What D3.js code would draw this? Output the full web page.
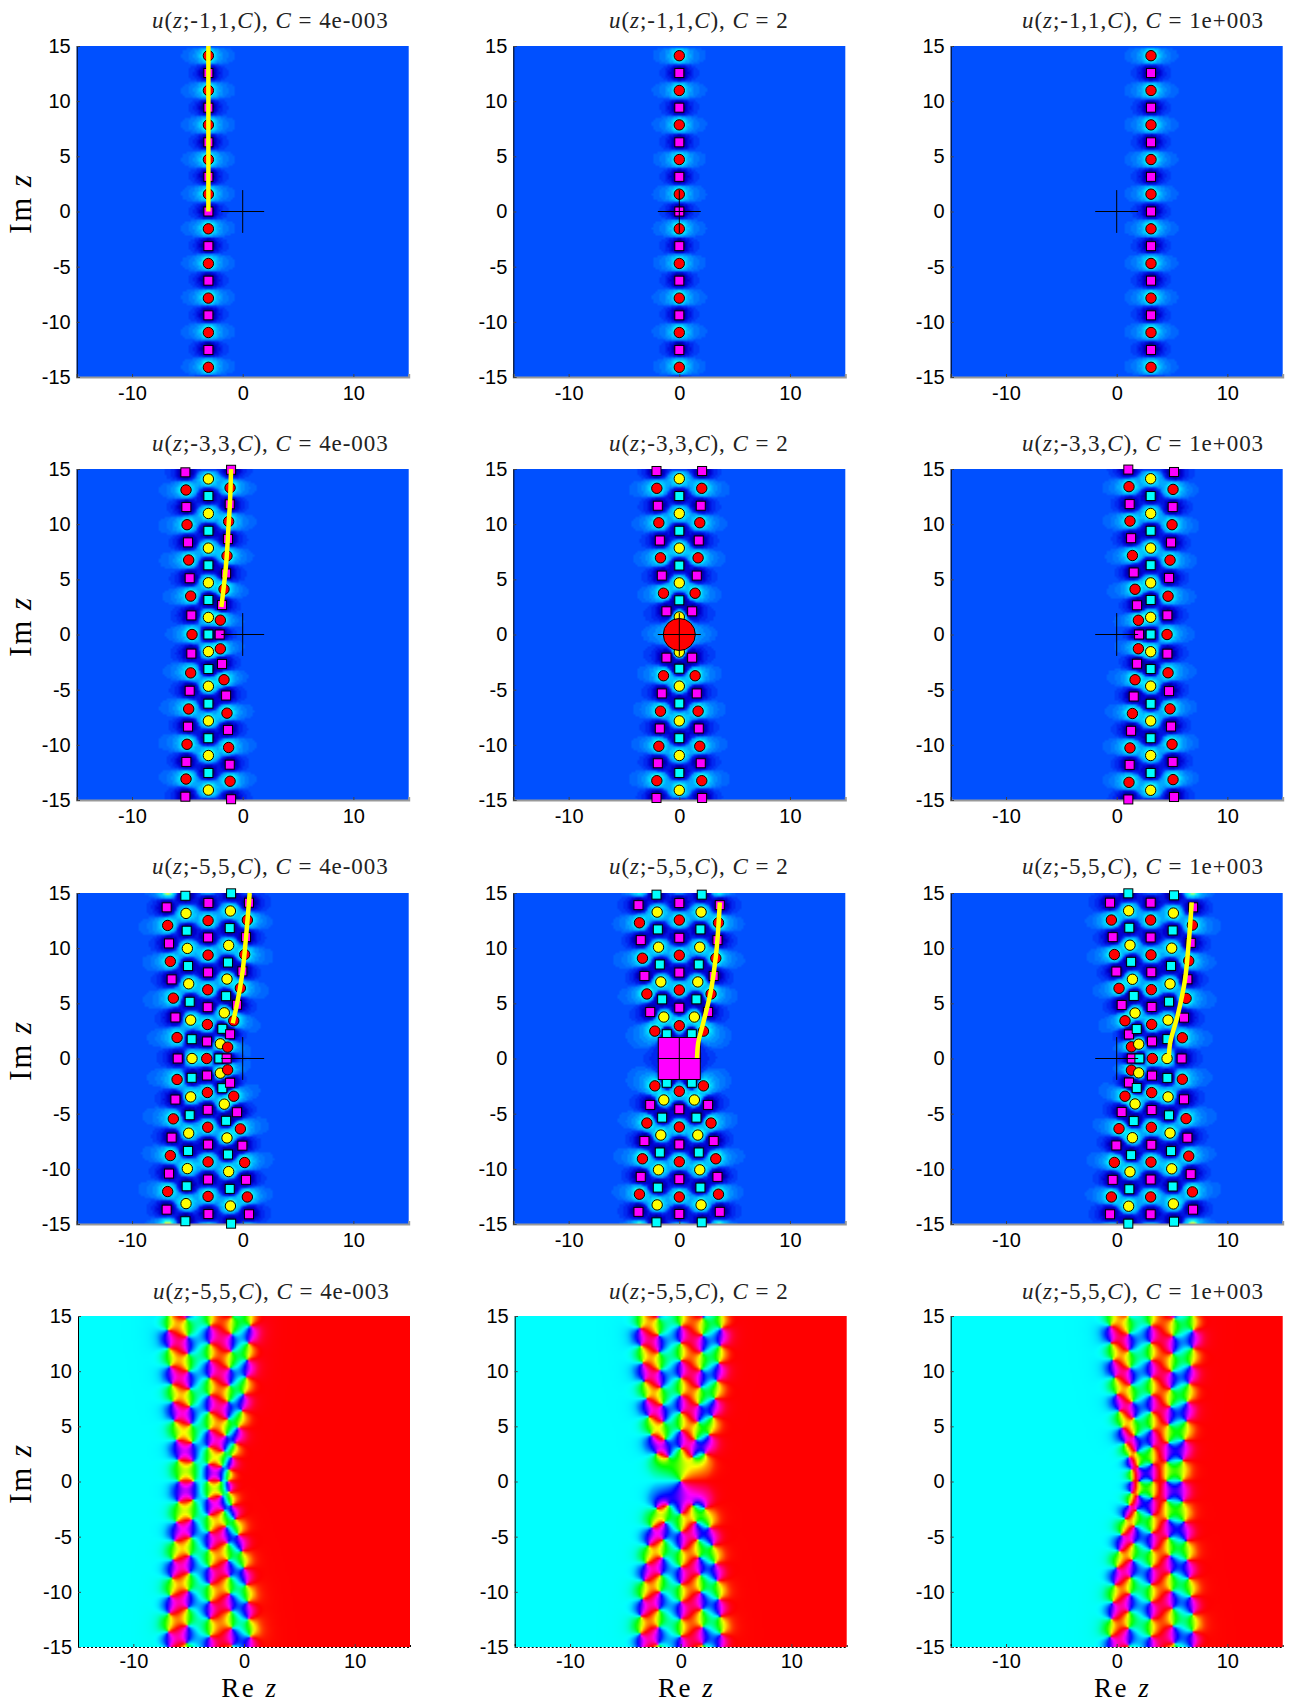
<!DOCTYPE html>
<html>
<head>
<meta charset="utf-8">
<script src="https://cdn.jsdelivr.net/npm/d3@7"></script>
<style>
  body { margin: 0; background: #fff; }
  svg { display: block; }
  .tick text { font-family: "Liberation Sans", Arial, sans-serif; font-size: 20px; fill: #000; }
  .ttl { font-family: "Liberation Serif", serif; font-size: 23px; letter-spacing: 0.95px; fill: #222; }
  .lbl { font-family: "Liberation Serif", serif; font-size: 31px; letter-spacing: 1.5px; fill: #000; }
  .lblx { font-family: "Liberation Serif", serif; font-size: 27px; letter-spacing: 2.5px; fill: #000; }
</style>
</head>
<body>
<svg id="fig" width="1293" height="1703"></svg>
<script>
// Every column is listed from y = 0 upward, the lower half plane is its mirror image.
// Kinds alternate along a column: r red circle, m magenta square, y yellow circle, c cyan square.

// first row, one column at x = -3.1, 0, 3.1
var r1xs = [-3.1, 0, 3.1];
var r1ys = [0, 1.57, 3.14, 4.71, 6.27, 7.85, 9.41, 10.97, 12.55, 14.12];

// second row
var r2c1L = [[-4.58,0],[-4.64,1.73],[-4.7,3.48],[-4.79,5.1],[-4.88,6.75],[-4.94,8.35],[-5.03,9.95],[-5.09,11.55],[-5.12,13.1],[-5.18,14.7]];
var r2c1C = [[-3.1,0],[-3.1,1.55],[-3.1,3.13],[-3.1,4.69],[-3.1,6.27],[-3.1,7.83],[-3.1,9.4],[-3.1,10.97],[-3.1,12.55],[-3.1,14.1]];
var r2c1R = [[-2.08,0],[-2.02,1.3],[-1.87,2.67],[-1.69,4.1],[-1.5,5.53],[-1.42,7.13],[-1.33,8.65],[-1.27,10.24],[-1.17,11.8],[-1.14,13.3],[-1.05,14.93]];

var r2c2L = [[-1.16,2.1],[-1.43,3.74],[-1.58,5.34],[-1.7,6.95],[-1.76,8.52],[-1.85,10.13],[-1.94,11.67],[-2.03,13.25],[-2.06,14.82]];
var r2c2C = [[0,1.59],[0,3.1],[0,4.68],[0,6.25],[0,7.83],[0,9.4],[0,10.97],[0,12.55],[0,14.12]];
var r2c2R = [[1.16,2.1],[1.43,3.74],[1.58,5.34],[1.7,6.95],[1.76,8.52],[1.85,10.13],[1.94,11.67],[2.03,13.25],[2.06,14.82]];

var r2c3L = [[2.02,0],[1.96,1.29],[1.84,2.65],[1.66,4.1],[1.54,5.62],[1.42,7.16],[1.3,8.73],[1.2,10.28],[1.17,11.82],[1.11,13.4],[1.05,14.95]];
var r2c3C = [[3.07,0],[3.07,1.56],[3.07,3.13],[3.07,4.68],[3.07,6.28],[3.07,7.83],[3.07,9.4],[3.07,10.97],[3.07,12.55],[3.07,14.12]];
var r2c3R = [[4.55,0],[4.58,1.74],[4.64,3.47],[4.73,5.13],[4.82,6.74],[4.91,8.34],[5,9.95],[5.06,11.55],[5.09,13.15],[5.18,14.73]];

// third row (the fourth row shows the same points)
var r3c1A = [[-5.87,0],[-5.93,1.9],[-6.08,3.72],[-6.27,5.47],[-6.42,7.17],[-6.54,8.8],[-6.66,10.43],[-6.78,12.06],[-6.87,13.7]];
var r3c1B = [[-4.58,0],[-4.61,1.75],[-4.7,3.48],[-4.79,5.14],[-4.88,6.77],[-4.94,8.38],[-5,9.98],[-5.06,11.58],[-5.12,13.15],[-5.18,14.75]];
var r3c1C = [[-3.25,0],[-3.22,1.54],[-3.19,3.08],[-3.16,4.65],[-3.16,6.23],[-3.13,7.8],[-3.13,9.37],[-3.13,10.97],[-3.13,12.5],[-3.1,14.1]];
var r3c1D = [[-2.11,0],[-2.02,1.33],[-1.84,2.69],[-1.66,4.14],[-1.5,5.65],[-1.42,7.2],[-1.33,8.7],[-1.27,10.25],[-1.17,11.82],[-1.11,13.37],[-1.05,14.97]];
var r3c1E = [[-1.45,0],[-1.36,1.03],[-1.14,2.2],[-0.81,3.42],[-0.51,4.87],[-0.21,6.38],[-0.03,7.9],[0.18,9.43],[0.3,11],[0.42,12.55],[0.57,14.12]];

var r3c2A = [[-2.21,2.48],[-2.63,4.21],[-2.93,5.85],[-3.15,7.48],[-3.33,9.09],[-3.48,10.73],[-3.6,12.3],[-3.69,13.9]];
var r3c2B = [[-1.13,2.2],[-1.4,3.76],[-1.55,5.36],[-1.67,6.94],[-1.76,8.52],[-1.88,10.09],[-1.94,11.7],[-2,13.27],[-2.06,14.85]];
var r3c2C = [[0,0],[0,2.97],[0,4.6],[0,6.21],[0,7.79],[0,9.36],[0,10.94],[0,12.55],[0,14.09]];
var r3c2D = [[1.13,2.2],[1.36,3.76],[1.55,5.36],[1.67,6.94],[1.76,8.52],[1.85,10.09],[1.91,11.7],[1.97,13.27],[2.03,14.85]];
var r3c2E = [[2.18,2.48],[2.6,4.21],[2.87,5.85],[3.11,7.48],[3.3,9.09],[3.45,10.73],[3.54,12.3],[3.66,13.9]];

var r3c3A = [[1.36,0],[1.33,1.06],[1.11,2.18],[0.75,3.42],[0.45,4.85],[0.21,6.36],[-0.03,7.88],[-0.21,9.42],[-0.36,11],[-0.48,12.55],[-0.6,14.12]];
var r3c3B = [[2.05,0],[1.99,1.3],[1.81,2.67],[1.66,4.12],[1.54,5.67],[1.42,7.18],[1.3,8.76],[1.2,10.27],[1.14,11.85],[1.08,13.39],[1.05,14.97]];
var r3c3C = [[3.22,0],[3.19,1.55],[3.16,3.09],[3.16,4.67],[3.13,6.24],[3.13,7.82],[3.1,9.39],[3.07,10.97],[3.07,12.55],[3.07,14.12]];
var r3c3D = [[4.55,0],[4.58,1.76],[4.64,3.48],[4.73,5.15],[4.82,6.76],[4.91,8.39],[4.97,10],[5.06,11.6],[5.12,13.18],[5.18,14.79]];
var r3c3E = [[5.87,0],[5.93,1.88],[6.08,3.7],[6.27,5.45],[6.39,7.18],[6.51,8.85],[6.69,10.48],[6.84,12.09],[6.9,13.7]];

// the thick yellow paths
var path11 = [[-3.1,0],[-3.1,15]];
var path21 = [[-1.93,2.5],[-1.7,4.4],[-1.45,7],[-1.3,9.5],[-1.15,12],[-1.05,15]];
var path31 = [[-0.9,3.2],[-0.51,4.96],[-0.03,7.74],[0.3,11],[0.63,15]];
var path32 = [[1.6,0],[1.7,1.36],[2.15,3.18],[2.81,5.9],[3.3,9.24],[3.66,14.15]];
var path33 = [[4.7,0],[4.82,1.36],[5.48,3.79],[6.17,7.12],[6.48,10.15],[6.78,14.15]];

var paramLabels = ["-1,1", "-3,3", "-5,5", "-5,5"];
var cLabels = ["4e-003", "2", "1e+003"];
var yTicks = [-15, -10, -5, 0, 5, 10, 15];
var xTicks = [-10, 0, 10];

// contour levels of the field (offset from the far value) and their colours
var fieldLevels = [-3.5, -2, -1, -0.5, -0.2, -0.06, 0.012, 0.06, 0.2, 0.5, 1, 2, 3.5, 6, 9];
var fieldColors = ["#000080", "#0000a8", "#0000d0", "#0014e0", "#0028f0", "#003cf8", "#0050ff",
                   "#0066ff", "#0078ff", "#0090ff", "#00a8ff", "#00c4ff", "#00e4ff", "#30ffe0", "#90ff90", "#d8ff40"];

// columns and their kinds per panel, as [points, first kind, second kind]
var r1Column = function(x){ return [[r1ys.map(function(y){ return [x, y]; }), "m", "r"]]; };
var panels = [
  {row:0, col:0, columns:r1Column(r1xs[0]), path:path11},
  {row:0, col:1, columns:r1Column(r1xs[1])},
  {row:0, col:2, columns:r1Column(r1xs[2])},
  {row:1, col:0, columns:[[r2c1L,"r","m"],[r2c1C,"c","y"],[r2c1R,"m","r"]], path:path21},
  {row:1, col:1, columns:[[r2c2L,"m","r"],[r2c2C,"y","c"],[r2c2R,"m","r"],[[[0,0]],"r","r"]], big:"r"},
  {row:1, col:2, columns:[[r2c3L,"m","r"],[r2c3C,"c","y"],[r2c3R,"r","m"]]},
  {row:2, col:0, columns:[[r3c1A,"m","r"],[r3c1B,"y","c"],[r3c1C,"r","m"],[r3c1D,"c","y"],[r3c1E,"m","r"]], path:path31},
  {row:2, col:1, columns:[[r3c2A,"r","m"],[r3c2B,"c","y"],[r3c2C,"m","r"],[r3c2D,"c","y"],[r3c2E,"r","m"]], path:path32, big:"m"},
  {row:2, col:2, columns:[[r3c3A,"m","r"],[r3c3B,"c","y"],[r3c3C,"r","m"],[r3c3D,"y","c"],[r3c3E,"m","r"]], path:path33}
];
// the phase row reuses the third row's points
panels.slice(6).forEach(function(p){
  panels.push({row:3, col:p.col, columns:p.columns, phase:true});
});

var lefts = [[76.7,513.3,950.7],[76.7,513.3,950.7],[76.7,513.3,950.7],[78,514.7,950.7]];
var tops = [46, 469, 893, 1316];
var titleY = [28, 451, 874, 1299];
var titleX = [152, 609, 1022];
var plotW = 332, plotH = 331, STEP = 2;

var fillOf = {r:"#f00", m:"#f0f", y:"#ff0", c:"#0ff"};
var sign = {r:1, m:-1, y:1, c:-1};      // sign in the intensity field
var winding = {r:-1, m:1, y:-1, c:1};   // winding in the phase plot

var intensity = d3.scaleThreshold().domain(fieldLevels).range(fieldColors.map(function(c){ return d3.rgb(c); }));

// Build point lists: drawn markers plus periodic copies past the frame so
// that the columns do not stop abruptly at the edge.
function collect(panel){
  var pts = [], copies = panel.phase ? 16 : 8;
  panel.columns.forEach(function(c){
    var list = c[0], kinds = [c[1], c[2]], up = [];
    list.forEach(function(p, i){
      up.push({x:p[0], y:p[1], k:kinds[i % 2], w:1, shown:true});
    });
    if(list.length > 2){
      var n = list.length;
      for(var i = 0; i < copies; i++){
        var src = list[n - 2 + i % 2];
        up.push({x:src[0], y:src[1] + Math.PI * (1 + Math.floor(i / 2)), k:kinds[(n - 2 + i) % 2], w:(i == copies - 1 ? 0.5 : 1), shown:false});
      }
    }
    up.forEach(function(p){
      pts.push(p);
      if(p.y > 0) pts.push({x:p.x, y:-p.y, k:p.k, w:p.w, shown:p.shown});
    });
  });
  return pts;
}

function paintImage(g, panel, pts, x, y){
  var nx = Math.ceil(plotW / STEP), ny = Math.ceil(plotH / STEP);
  var canvas = document.createElement("canvas");
  canvas.width = nx; canvas.height = ny;
  var ctx = canvas.getContext("2d");
  var img = ctx.createImageData(nx, ny);
  var n = pts.length;
  var px = pts.map(function(p){ return p.x; }), py = pts.map(function(p){ return p.y; });
  var wt = pts.map(function(p){ return (panel.phase ? winding[p.k] : sign[p.k]) * p.w; });
  for(var j = 0; j < ny; j++){
    var zy = y.invert((j + 0.5) * STEP), k, dx, dy;
    // soft outline of the band at this height, used by the phase plot
    var bandL = 1e9, bandR = -1e9;
    if(panel.phase){
      for(k = 0; k < n; k++){
        dy = zy - py[k];
        bandL = Math.min(bandL, px[k] + 0.15 * dy * dy);
        bandR = Math.max(bandR, px[k] - 0.15 * dy * dy);
      }
    }
    for(var i = 0; i < nx; i++){
      var zx = x.invert((i + 0.5) * STEP), c;
      if(panel.phase){
        var arg = 0;
        for(k = 0; k < n; k++){
          arg += wt[k] * Math.atan2(zy - py[k], zx - px[k]);
        }
        // away from the band the phase settles on its far value: 180 left, 0 right
        var far = zx < bandL ? 180 : 0;
        var off = ((arg * 180 / Math.PI - far) % 360 + 540) % 360 - 180;
        var outside = zx < bandL ? bandL - zx : zx - bandR;
        if(outside > 0.8) off *= Math.exp(-(outside - 0.8) * 1.2);
        c = d3.rgb(d3.hsl(far + off, 1, 0.5));
      }else{
        var v = 0;
        for(k = 0; k < n; k++){
          dx = zx - px[k]; dy = zy - py[k];
          v += wt[k] / (dx * dx + dy * dy + 1e-6);
        }
        // the big marker at the origin has a wider halo
        if(panel.big) v += sign[panel.big] * 0.8 * Math.exp(-(zx * zx / 3.5 + zy * zy / 1.2));
        // and the big square cancels the faint ring its neighbours leave
        if(panel.big == "m") v -= 0.06 * Math.exp(-(zx * zx / 40 + zy * zy / 16));
        c = intensity(v);
      }
      var o = (j * nx + i) * 4;
      img.data[o] = c.r; img.data[o + 1] = c.g; img.data[o + 2] = c.b; img.data[o + 3] = 255;
    }
  }
  ctx.putImageData(img, 0, 0);
  g.append("image")
    .attr("href", canvas.toDataURL())
    .attr("width", plotW).attr("height", plotH)
    .attr("preserveAspectRatio", "none");
}

function drawTitle(panel){
  var t = d3.select("#fig").append("text")
    .attr("class", "ttl")
    .attr("x", titleX[panel.col] + (panel.row == 3 && panel.col == 0 ? 1 : 0))
    .attr("y", titleY[panel.row]);
  var parts = [["u",1],["(",0],["z",1],[";" + paramLabels[panel.row] + ",",0],["C",1],["), ",0],["C",1],[" = " + cLabels[panel.col],0]];
  parts.forEach(function(p){
    t.append("tspan").attr("font-style", p[1] ? "italic" : "normal").text(p[0]);
  });
}

var lineGen = null;
panels.forEach(function(panel){
  var g = d3.select("#fig").append("g")
    .attr("transform", "translate(" + lefts[panel.row][panel.col] + "," + tops[panel.row] + ")");
  var x = d3.scaleLinear().domain([-15, 15]).range([0, plotW]);
  var y = d3.scaleLinear().domain([15, -15]).range([0, plotH]);
  var pts = collect(panel);

  paintImage(g, panel, pts, x, y);

  // axes
  var ax = d3.axisBottom(x).tickValues(xTicks).tickSize(-3).tickPadding(panel.phase ? 7 : 9).tickFormat(String);
  var ay = d3.axisLeft(y).tickValues(yTicks).tickSize(-3).tickPadding(6).tickFormat(String);
  var gx = g.append("g").attr("transform", "translate(0," + plotH + ")").call(ax);
  var gy = g.append("g").call(ay);
  gx.selectAll(".domain").attr("stroke", panel.phase ? "#000" : "#999").attr("stroke-width", panel.phase ? 1 : 2)
    .attr("stroke-dasharray", panel.phase ? "2,2" : null);
  gx.selectAll(".tick line").attr("stroke", "#444");
  gy.selectAll(".tick line").attr("stroke", "#444");

  if(!panel.phase){
    var shown = pts.filter(function(p){ return p.shown; });
    g.selectAll("circle.mk")
      .data(shown.filter(function(p){ return p.k == "r" || p.k == "y"; }))
      .enter().append("circle").attr("class", "mk")
      .attr("cx", function(p){ return x(p.x); })
      .attr("cy", function(p){ return y(p.y); })
      .attr("r", 5.2)
      .attr("fill", function(p){ return fillOf[p.k]; })
      .attr("stroke", "#000");
    g.selectAll("rect.mk")
      .data(shown.filter(function(p){ return p.k == "m" || p.k == "c"; }))
      .enter().append("rect").attr("class", "mk")
      .attr("x", function(p){ return x(p.x) - 4.5; })
      .attr("y", function(p){ return y(p.y) - 4.5; })
      .attr("width", 9).attr("height", 9)
      .attr("fill", function(p){ return fillOf[p.k]; })
      .attr("stroke", "#000");

    if(panel.big == "r"){
      g.append("circle").attr("cx", x(0)).attr("cy", y(0)).attr("r", 16)
        .attr("fill", fillOf.r).attr("stroke", "#000");
    }
    if(panel.big == "m"){
      g.append("rect").attr("x", x(0) - 21).attr("y", y(0) - 21).attr("width", 42).attr("height", 42)
        .attr("fill", fillOf.m).attr("stroke", "#000");
    }

    if(panel.path){
      lineGen = d3.line().curve(d3.curveMonotoneY)
        .x(function(d){ return x(d[0]); })
        .y(function(d){ return y(d[1]); });
      g.append("path").attr("d", lineGen(panel.path))
        .attr("fill", "none").attr("stroke", "#ff0").attr("stroke-width", 4.5);
    }

    // crosshair at the origin
    g.append("path")
      .attr("d", "M" + x(-1.94) + "," + y(0) + "H" + x(1.94) + "M" + x(0) + "," + y(1.94) + "V" + y(-1.94))
      .attr("stroke", "#000").attr("fill", "none");
  }

  drawTitle(panel);

  if(panel.col == 0){
    var cy = tops[panel.row] + plotH / 2;
    var yl = d3.select("#fig").append("text").attr("class", "lbl")
      .attr("transform", "translate(31," + (cy - 8) + ") rotate(-90)")
      .attr("text-anchor", "middle");
    yl.append("tspan").text("Im ");
    yl.append("tspan").attr("font-style", "italic").text("z");
  }
  if(panel.row == 3){
    var xl = d3.select("#fig").append("text").attr("class", "lblx")
      .attr("x", lefts[3][panel.col] + plotW / 2 + 6).attr("y", 1697)
      .attr("text-anchor", "middle");
    xl.append("tspan").text("Re ");
    xl.append("tspan").attr("font-style", "italic").text("z");
  }
});
</script>
</body>
</html>
